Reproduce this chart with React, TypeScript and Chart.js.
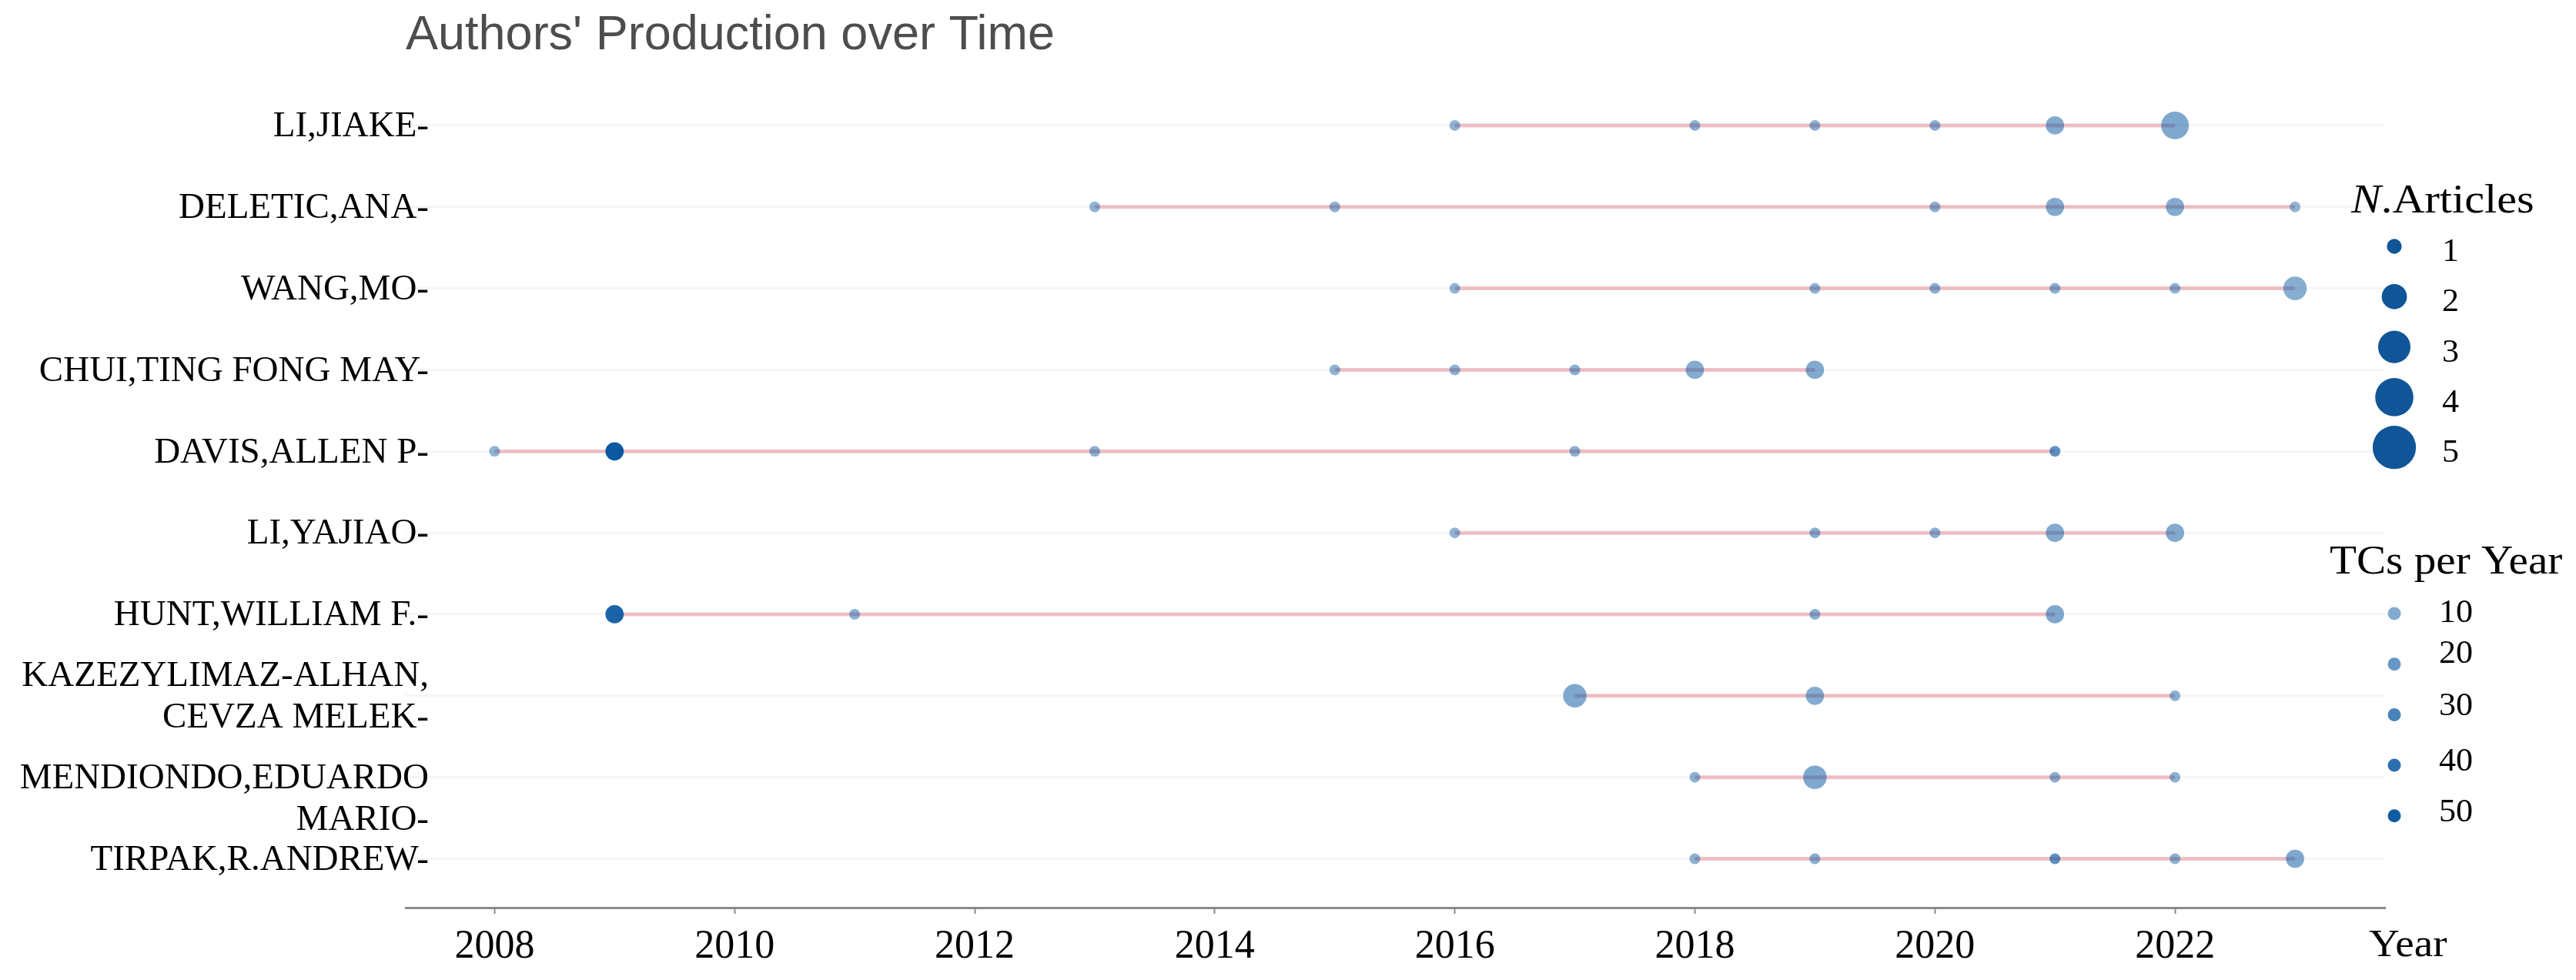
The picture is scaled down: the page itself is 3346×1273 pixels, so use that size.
import React, { useEffect, useRef } from "react";
import { Chart, registerables } from "chart.js";

Chart.register(...registerables);

// ---------------- data ----------------
const chartTitle = "Authors' Production over Time";

const authors = [
  "LI,JIAKE",
  "DELETIC,ANA",
  "WANG,MO",
  "CHUI,TING FONG MAY",
  "DAVIS,ALLEN P",
  "LI,YAJIAO",
  "HUNT,WILLIAM F.",
  "KAZEZYLIMAZ-ALHAN,CEVZA MELEK",
  "MENDIONDO,EDUARDO MARIO",
  "TIRPAK,R.ANDREW",
];

// how each author's name is printed on the axis (wrapped lines)
const authorLabelLines: string[][] = [
  ["LI,JIAKE-"],
  ["DELETIC,ANA-"],
  ["WANG,MO-"],
  ["CHUI,TING FONG MAY-"],
  ["DAVIS,ALLEN P-"],
  ["LI,YAJIAO-"],
  ["HUNT,WILLIAM F.-"],
  ["KAZEZYLIMAZ-ALHAN,", "CEVZA MELEK-"],
  ["", "MENDIONDO,EDUARDO", "MARIO-"],
  ["TIRPAK,R.ANDREW-"],
];

const years: number[][] = [
  [2016, 2018, 2019, 2020, 2021, 2022],
  [2013, 2015, 2020, 2021, 2022, 2023],
  [2016, 2019, 2020, 2021, 2022, 2023],
  [2015, 2016, 2017, 2018, 2019],
  [2008, 2009, 2013, 2017, 2021],
  [2016, 2019, 2020, 2021, 2022],
  [2009, 2011, 2019, 2021],
  [2017, 2019, 2022],
  [2018, 2019, 2021, 2022],
  [2018, 2019, 2021, 2022, 2023],
];

const articles: number[][] = [
  [1, 1, 1, 1, 2, 4],
  [1, 1, 1, 2, 2, 1],
  [1, 1, 1, 1, 1, 3],
  [1, 1, 1, 2, 2],
  [1, 2, 1, 1, 1],
  [1, 1, 1, 2, 2],
  [2, 1, 1, 2],
  [3, 2, 1],
  [1, 3, 1, 1],
  [1, 1, 1, 1, 2],
];

const tcPerYear: number[][] = [
  [5, 7, 7, 8, 10, 11],
  [5, 6, 7, 10, 9, 4],
  [5, 7, 8, 8, 6, 8],
  [5, 6, 7, 9, 10],
  [5, 52, 6, 7, 22],
  [5, 8, 7, 10, 10],
  [46, 6, 7, 11],
  [11, 9, 6],
  [6, 11, 7, 6],
  [6, 8, 22, 7, 11],
];

const yearTicks = [2008, 2010, 2012, 2014, 2016, 2018, 2020, 2022];
const xRange = [2007.26, 2023.75];
const yRange = [-0.5, 9.6];

const articleLegend = [1, 2, 3, 4, 5];
const tcLegend = [10, 20, 30, 40, 50];

// ---------------- styling helpers ----------------
const SERIF = "'Liberation Serif', 'Times New Roman', serif";
const SANS = "'Liberation Sans', Arial, sans-serif";

const chartRadius = (n: number) => Math.sqrt(Math.max(1, -42.7 + 91.7 * n));
const legendRadius = (n: number) => chartRadius(n) * 1.38;
const tcAlpha = (tc: number) => 0.4 + 0.6 * Math.min(1, Math.max(0, (tc - 1) / 53));
const tcColor = (tc: number) => `rgba(5,85,160,${tcAlpha(tc).toFixed(3)})`;

const bubbleData = authors.flatMap((_, i) =>
  years[i].map((yr, j) => ({
    x: yr,
    y: i,
    r: chartRadius(articles[i][j]),
    tc: tcPerYear[i][j],
  }))
);

const lineDatasets = authors.map((name, i) => ({
  type: "line" as const,
  label: name,
  data: [
    { x: Math.min(...years[i]), y: i },
    { x: Math.max(...years[i]), y: i },
  ],
  borderColor: "rgba(210,60,75,0.3)",
  borderWidth: 5,
  pointRadius: 0,
  pointHoverRadius: 0,
  order: 2,
}));

// draw text stretched horizontally (the reference glyphs are slightly wide)
function stretchedText(ctx: any, text: string, x: number, y: number, sx: number, align: string) {
  ctx.save();
  ctx.translate(x, y);
  ctx.scale(sx, 1);
  ctx.textAlign = align;
  ctx.fillText(text, 0, 0);
  ctx.restore();
}

const overlayPlugin = {
  id: "overlay",
  afterDraw(chart: any) {
    const { ctx, chartArea } = chart;
    const L = chartArea.left;
    const R = chartArea.right;
    const xScale = chart.scales.x;
    const yScale = chart.scales.y;
    ctx.save();
    ctx.textBaseline = "middle";

    // title
    ctx.fillStyle = "#4d4d4d";
    ctx.font = `63px ${SANS}`;
    ctx.textAlign = "left";
    ctx.fillText(chartTitle, L, 47);

    // author labels (category axis)
    ctx.fillStyle = "#000";
    ctx.font = `47px ${SERIF}`;
    const lh = 54;
    authorLabelLines.forEach((lines, i) => {
      const cy = yScale.getPixelForValue(i);
      const y0 = cy - ((lines.length - 1) * lh) / 2;
      lines.forEach((t, k) => {
        stretchedText(ctx, t, L + 30, y0 + k * lh + 2, 1.0, "right");
      });
    });

    // "Year" axis caption
    ctx.font = `51px ${SERIF}`;
    stretchedText(ctx, "Year", R - 21, xScale.top + 50, 1.08, "left");

    // N.Articles legend
    const titleX1 = R - 44;
    ctx.font = `italic 52px ${SERIF}`;
    const nW = ctx.measureText("N").width * 1.12;
    stretchedText(ctx, "N", titleX1, 262, 1.12, "left");
    ctx.font = `52px ${SERIF}`;
    stretchedText(ctx, ".Articles", titleX1 + nW, 262, 1.12, "left");

    const dotX = R + 12;
    const labX = R + 74;
    articleLegend.forEach((n, k) => {
      const cy = 320 + k * 65.3;
      ctx.beginPath();
      ctx.fillStyle = "rgba(8,80,148,0.97)";
      ctx.arc(dotX, cy, legendRadius(n), 0, Math.PI * 2);
      ctx.fill();
      ctx.fillStyle = "#000";
      ctx.font = `42px ${SERIF}`;
      stretchedText(ctx, String(n), labX, cy + 8, 1.05, "left");
    });

    // TCs per Year legend
    ctx.font = `52px ${SERIF}`;
    ctx.fillStyle = "#000";
    stretchedText(ctx, "TCs per Year", R - 72, 731, 1.1, "left");
    const labOff = [0, -13, -10, -4, -4];
    tcLegend.forEach((tc, k) => {
      const cy = 797 + k * 65.7;
      ctx.beginPath();
      ctx.fillStyle = tcColor(tc);
      ctx.arc(dotX, cy, 8.5, 0, Math.PI * 2);
      ctx.fill();
      ctx.fillStyle = "#000";
      ctx.font = `42px ${SERIF}`;
      stretchedText(ctx, String(tc), labX - 4, cy + labOff[k], 1.05, "left");
    });

    ctx.restore();
  },
};

export default function App() {
  const ref = useRef<HTMLCanvasElement | null>(null);

  useEffect(() => {
    if (!ref.current) return;
    const chart = new Chart(ref.current, {
      type: "bubble",
      data: {
        datasets: [
          {
            type: "bubble" as const,
            label: "points",
            data: bubbleData as any,
            backgroundColor: (c: any) => tcColor(c.raw ? c.raw.tc : 10),
            borderWidth: 0,
            hoverRadius: 0,
            order: 1,
          } as any,
          ...(lineDatasets as any[]),
        ],
      },
      options: {
        animation: false,
        responsive: true,
        maintainAspectRatio: false,
        events: [],
        layout: { padding: { top: 110, right: 248, bottom: 0, left: 0 } },
        plugins: {
          legend: { display: false },
          tooltip: { enabled: false },
          title: { display: false },
        },
        scales: {
          x: {
            type: "linear",
            min: xRange[0],
            max: xRange[1],
            afterBuildTicks: (scale: any) => {
              scale.ticks = yearTicks.map((v) => ({ value: v }));
            },
            afterFit: (scale: any) => {
              scale.height = 94;
            },
            ticks: {
              autoSkip: false,
              maxRotation: 0,
              color: "#000",
              font: { family: SERIF, size: 52 },
              padding: 12,
              callback: (v: any) => String(v),
            },
            grid: {
              drawOnChartArea: false,
              drawTicks: true,
              tickLength: 8,
              tickColor: "#8a8a8a",
              tickWidth: 2,
            },
            border: { display: true, color: "#8a8a8a", width: 3 },
          },
          y: {
            type: "linear",
            reverse: true,
            min: yRange[0],
            max: yRange[1],
            afterBuildTicks: (scale: any) => {
              scale.ticks = authors.map((_, i) => ({ value: i }));
            },
            afterFit: (scale: any) => {
              scale.width = 527;
            },
            ticks: { display: false },
            grid: {
              color: "rgba(0,0,0,0.035)",
              lineWidth: 3,
              drawTicks: false,
            },
            border: { display: false },
          },
        },
      },
      plugins: [overlayPlugin],
    } as any);
    return () => chart.destroy();
  }, []);

  return (
    <div
      style={{
        position: "fixed",
        left: 0,
        top: 0,
        width: "3346px",
        height: "1273px",
        background: "#ffffff",
      }}
    >
      <canvas ref={ref} />
    </div>
  );
}
